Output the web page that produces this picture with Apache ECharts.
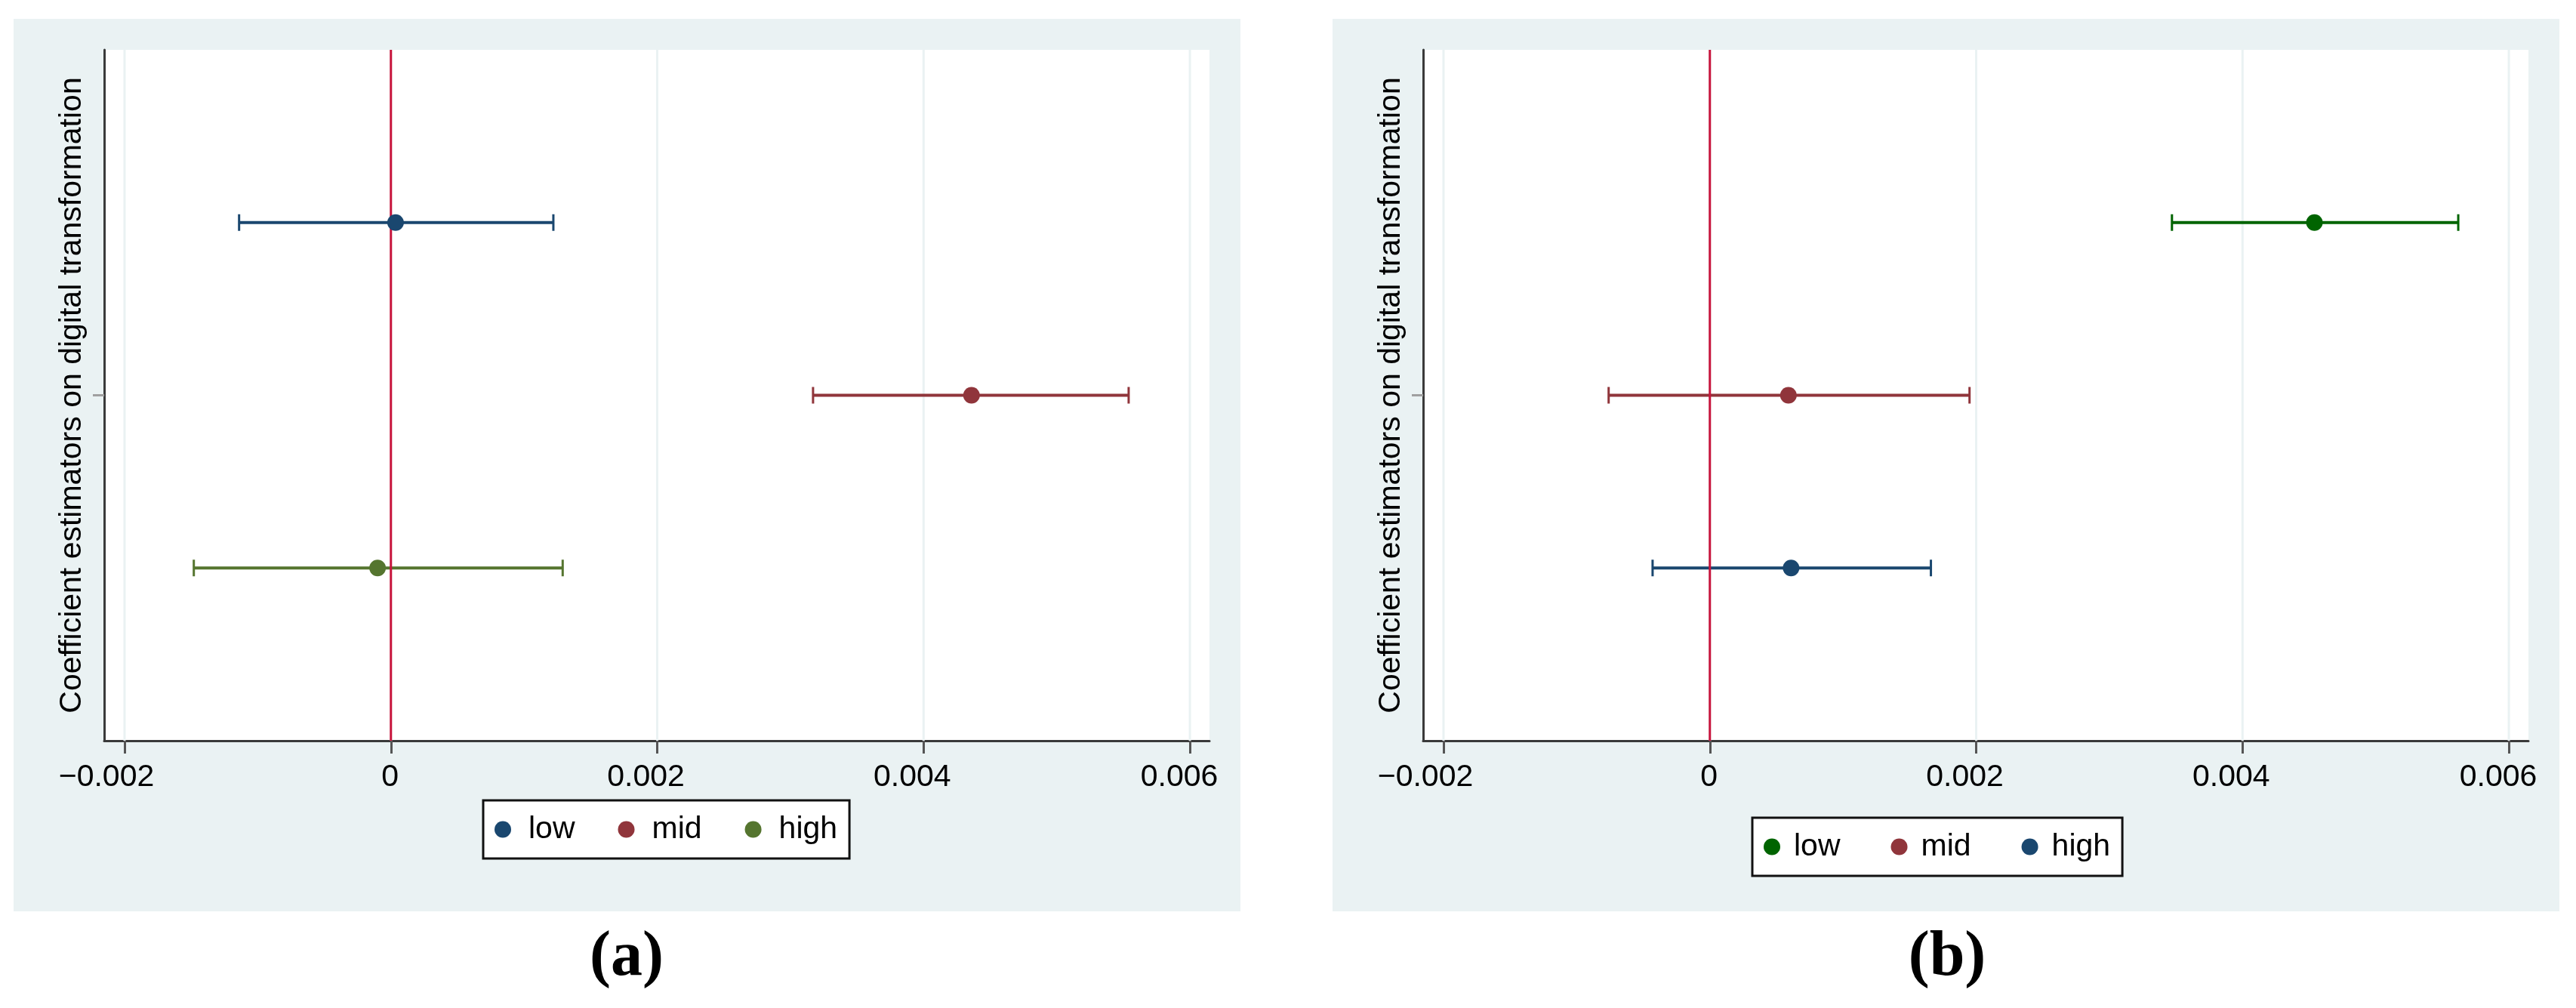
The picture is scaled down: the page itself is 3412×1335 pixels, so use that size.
<!DOCTYPE html>
<html>
<head>
<meta charset="utf-8">
<script src="https://cdn.jsdelivr.net/npm/echarts@6/dist/echarts.min.js"></script>
<style>
html,body{margin:0;padding:0;background:#fff;}
#chart{width:3412px;height:1335px;}
</style>
</head>
<body>
<div id="chart"></div>
<script>
// ---- data ----
const categories = ['low', 'mid', 'high'];
const categoryPos = [3, 2, 1];
const estA   = [0.000035, 0.00436, -0.00010];
const lowerA = [-0.00114, 0.00317, -0.00148];
const upperA = [0.00122, 0.00554, 0.00129];
const estB   = [0.00454, 0.00059, 0.00061];
const lowerB = [0.00347, -0.00076, -0.00043];
const upperB = [0.00562, 0.00195, 0.00166];
const xTickValues = [-0.002, 0, 0.002, 0.004, 0.006];
const xTickLabels = ['\u22120.002', '0', '0.002', '0.004', '0.006'];
const yTickValues = [2];
const refLineValues = [0];
const xRange = [-0.002153, 0.006147];
const yRange = [0, 4];
const yTitle = 'Coefficient estimators on digital transformation';
const panelLabels = ['(a)', '(b)'];

// ---- styles ----
const colorsA = ['#1a476f', '#90353b', '#55752f'];
const colorsB = ['#006400', '#90353b', '#1a476f'];
const BG = '#eaf2f3';
const FONT = 'Liberation Sans, Arial, sans-serif';
const labelNudge = [24, 1, 15, 15, 14]; // stata-like label shift to the left

const chart = echarts.init(document.getElementById('chart'), null, {renderer: 'canvas'});

function tickLabel(v) {
  for (let i = 0; i < xTickValues.length; i++) {
    if (Math.abs(xTickValues[i] - v) < 1e-12) return '{n' + i + '|' + xTickLabels[i] + '}';
  }
  return '';
}
const rich = {};
labelNudge.forEach((n, i) => {
  rich['n' + i] = {fontSize: 41, fontFamily: FONT, color: '#000', padding: [0, 2 * n, 0, 0]};
});

const grids = [
  {left: 138, top: 66, width: 1464, height: 915},
  {left: 1885, top: 66, width: 1464, height: 915}
];

function makeXAxis(gi) {
  return {
    type: 'value', gridIndex: gi, min: xRange[0], max: xRange[1],
    axisLine: {show: true, onZero: false, lineStyle: {color: '#3a3a3a', width: 3}},
    axisTick: {show: true, customValues: xTickValues, length: 17, lineStyle: {color: '#555', width: 3}},
    axisLabel: {show: true, customValues: xTickValues, margin: 28, formatter: tickLabel, rich: rich,
      fontSize: 41, fontFamily: FONT, color: '#000'},
    splitLine: {show: false}
  };
}
function makeYAxis(gi) {
  return {
    type: 'value', gridIndex: gi, min: yRange[0], max: yRange[1],
    name: yTitle, nameLocation: 'middle', nameRotate: 90, nameGap: 22,
    nameTextStyle: {fontSize: 41, fontFamily: FONT, color: '#000'},
    axisLine: {show: true, onZero: false, lineStyle: {color: '#3a3a3a', width: 3}},
    axisTick: {show: true, customValues: yTickValues, length: 15, lineStyle: {color: '#a0a0a0', width: 3}},
    axisLabel: {show: false},
    splitLine: {show: false}
  };
}

function vLineSeries(gi, values, color, width, z) {
  return {
    type: 'custom', gridIndex: gi, xAxisIndex: gi, yAxisIndex: gi, silent: true, z: z,
    data: values.map(v => [v, yRange[0]]),
    encode: {x: 0, y: 1},
    renderItem: function (params, api) {
      const x = api.coord([api.value(0), yRange[0]])[0];
      const yb = api.coord([0, yRange[0]])[1];
      const yt = api.coord([0, yRange[1]])[1];
      return {type: 'line', shape: {x1: x, y1: yt, x2: x, y2: yb}, style: {stroke: color, lineWidth: width}};
    }
  };
}

function ciSeries(gi, lower, upper, colors) {
  return {
    type: 'custom', gridIndex: gi, xAxisIndex: gi, yAxisIndex: gi, silent: true, z: 3,
    data: categories.map((c, i) => [lower[i], upper[i], categoryPos[i]]),
    encode: {x: [0, 1], y: 2},
    renderItem: function (params, api) {
      const y = api.value(2);
      const p1 = api.coord([api.value(0), y]);
      const p2 = api.coord([api.value(1), y]);
      const c = colors[params.dataIndex];
      const h = 11;
      return {type: 'group', children: [
        {type: 'line', shape: {x1: p1[0], y1: p1[1], x2: p2[0], y2: p2[1]}, style: {stroke: c, lineWidth: 4}},
        {type: 'line', shape: {x1: p1[0], y1: p1[1] - h, x2: p1[0], y2: p1[1] + h}, style: {stroke: c, lineWidth: 3}},
        {type: 'line', shape: {x1: p2[0], y1: p2[1] - h, x2: p2[0], y2: p2[1] + h}, style: {stroke: c, lineWidth: 3}}
      ]};
    }
  };
}

function pointSeries(gi, est, colors, suffix) {
  return categories.map((c, i) => ({
    type: 'scatter', name: c + suffix, xAxisIndex: gi, yAxisIndex: gi, z: 5,
    symbol: 'circle', symbolSize: 22,
    itemStyle: {color: colors[i], opacity: 1},
    data: [[est[i], categoryPos[i]]]
  }));
}

const series = [
  vLineSeries(0, xTickValues, BG, 3, 1),
  vLineSeries(1, xTickValues, BG, 3, 1),
  ciSeries(0, lowerA, upperA, colorsA),
  ciSeries(1, lowerB, upperB, colorsB),
  vLineSeries(0, refLineValues, '#c8143c', 3, 4),
  vLineSeries(1, refLineValues, '#c8143c', 3, 4),
  ...pointSeries(0, estA, colorsA, ''),
  ...pointSeries(1, estB, colorsB, ' ')
];

function makeLegend(names, left, top, textPad, gap) {
  return {
    data: names, left: left, top: top, orient: 'horizontal',
    icon: 'circle', itemWidth: 22, itemHeight: 22, itemGap: gap,
    selectedMode: false,
    backgroundColor: '#fff', borderColor: '#111', borderWidth: 3, borderRadius: 0,
    padding: [18, 16, 18, 15],
    formatter: n => n.trim(),
    textStyle: {fontSize: 41, fontFamily: FONT, color: '#000', padding: [0, 0, 0, textPad]}
  };
}

const option = {
  animation: false,
  backgroundColor: '#fff',
  grid: grids.map(g => Object.assign({show: true, backgroundColor: '#fff', borderWidth: 0, containLabel: false}, g)),
  xAxis: [makeXAxis(0), makeXAxis(1)],
  yAxis: [makeYAxis(0), makeYAxis(1)],
  legend: [
    makeLegend(categories, 640, 1060, 18, 57),
    makeLegend(categories.map(c => c + ' '), 2321, 1083, 13, 67)
  ],
  graphic: [
    {type: 'rect', z: -100, silent: true, shape: {x: 18, y: 25, width: 1625, height: 1182}, style: {fill: BG}},
    {type: 'rect', z: -100, silent: true, shape: {x: 1765, y: 25, width: 1625, height: 1182}, style: {fill: BG}},
    {type: 'text', x: 830, y: 1269, silent: true,
      style: {text: panelLabels[0], font: 'bold 84px "Liberation Serif", serif', fill: '#000', textAlign: 'center', textVerticalAlign: 'middle'}},
    {type: 'text', x: 2579, y: 1269, silent: true,
      style: {text: panelLabels[1], font: 'bold 84px "Liberation Serif", serif', fill: '#000', textAlign: 'center', textVerticalAlign: 'middle'}}
  ],
  series: series
};
chart.setOption(option);
</script>
</body>
</html>
